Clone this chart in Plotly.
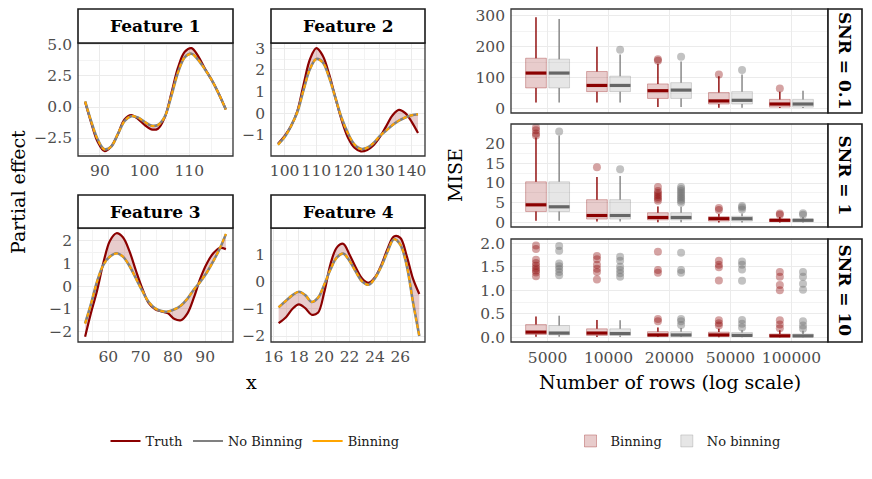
import plotly.graph_objects as go

# the page body has an 8px margin, so the figure is drawn 8px in from the corner
OFF = 8
W, H = 872 - 2 * OFF, 479 - 2 * OFF
FONT = "DejaVu Serif"
DARKRED = "#8B0000"
GRAY = "#808080"
ORANGE = "#FFA500"
TICK_GRAY = "#4D4D4D"

# ---------------- partial effect curves ----------------
f1_x = [86.7, 88, 89.5, 91, 92.5, 94, 95.5, 97, 98.5, 100, 101.5, 103, 104.5,
        106, 107.5, 109, 110.5, 112, 113.5, 115, 116.5, 118.2]
f1_truth = [0.4, -1.2, -2.8, -3.55, -3.2, -2.2, -1.0, -0.65, -0.95, -1.45, -1.8,
            -1.75, -0.85, 1.1, 3.2, 4.45, 4.75, 4.1, 3.1, 2.2, 1.15, -0.2]
f1_nobin = [0.45, -1.1, -2.6, -3.4, -3.2, -2.2, -1.15, -0.75, -0.85, -1.2, -1.5,
            -1.45, -0.8, 0.9, 2.8, 4.0, 4.3, 3.8, 3.05, 2.2, 1.15, -0.2]
f1_bin = [0.45, -1.1, -2.62, -3.42, -3.2, -2.18, -1.15, -0.74, -0.85, -1.2, -1.52,
          -1.46, -0.8, 0.92, 2.8, 4.0, 4.28, 3.8, 3.05, 2.2, 1.14, -0.2]

f2_x = [97.9, 100, 102, 104, 106, 108, 110, 112, 114, 116, 118, 120, 122, 124,
        126, 128, 130, 132, 134, 136, 138, 140, 142]
f2_truth = [-1.41, -1.05, -0.6, 0.1, 1.35, 2.5, 3.0, 2.65, 1.8, 0.7, -0.35, -1.15,
            -1.6, -1.77, -1.7, -1.48, -1.1, -0.6, -0.1, 0.15, 0.0, -0.4, -0.92]
f2_nobin = [-1.45, -1.1, -0.6, 0.05, 1.1, 2.05, 2.5, 2.35, 1.65, 0.7, -0.25, -0.95,
            -1.45, -1.65, -1.6, -1.38, -1.05, -0.8, -0.55, -0.35, -0.2, -0.1, -0.05]
f2_bin = [-1.46, -1.1, -0.6, 0.05, 1.1, 2.04, 2.5, 2.34, 1.65, 0.7, -0.25, -0.96,
          -1.45, -1.66, -1.6, -1.38, -1.05, -0.8, -0.55, -0.34, -0.2, -0.1, -0.05]

f3_x = [52.8, 54.5, 56.5, 58.5, 60.5, 62.5, 64.5, 66.5, 68.5, 70.5, 72.5, 74.5,
        76.5, 78.5, 80.5, 82.5, 84.5, 86.5, 88.5, 90.5, 92.5, 94.5, 96.4]
f3_truth = [-2.23, -1.25, -0.2, 1.05, 2.0, 2.33, 2.15, 1.55, 0.7, -0.1, -0.75, -1.02,
            -1.12, -1.2, -1.45, -1.5, -1.2, -0.5, 0.35, 1.0, 1.45, 1.68, 1.63]
f3_nobin = [-1.64, -0.85, 0.2, 0.95, 1.3, 1.45, 1.3, 0.9, 0.35, -0.2, -0.7, -0.98,
            -1.1, -1.12, -1.02, -0.85, -0.55, -0.15, 0.2, 0.6, 1.1, 1.65, 2.29]
f3_bin = [-1.65, -0.85, 0.2, 0.95, 1.3, 1.44, 1.3, 0.9, 0.35, -0.2, -0.7, -0.98,
          -1.1, -1.12, -1.02, -0.85, -0.55, -0.15, 0.2, 0.6, 1.1, 1.66, 2.3]

f4_x = [16.4, 17, 17.5, 18, 18.5, 19, 19.5, 20, 20.5, 21, 21.5, 22, 22.5, 23,
        23.5, 24, 24.5, 25, 25.5, 26, 26.5, 27, 27.5]
f4_truth = [-1.53, -1.3, -1.0, -0.84, -0.98, -1.22, -1.15, -0.4, 0.65, 1.25, 1.38,
            0.98, 0.5, 0.1, -0.05, 0.15, 0.6, 1.2, 1.65, 1.6, 0.95, 0.1, -0.46]
f4_nobin = [-0.95, -0.7, -0.5, -0.38, -0.5, -0.75, -0.6, -0.12, 0.45, 0.88, 1.02,
            0.75, 0.35, 0.0, -0.12, 0.12, 0.55, 1.1, 1.55, 1.35, 0.6, -0.75, -2.0]
f4_bin = [-0.95, -0.7, -0.5, -0.38, -0.5, -0.75, -0.6, -0.12, 0.45, 0.88, 1.02,
          0.75, 0.35, 0.0, -0.12, 0.12, 0.55, 1.1, 1.55, 1.35, 0.6, -0.76, -2.0]

features = ["Feature 1", "Feature 2", "Feature 3", "Feature 4"]
curves = [
    (f1_x, f1_truth, f1_nobin, f1_bin),
    (f2_x, f2_truth, f2_nobin, f2_bin),
    (f3_x, f3_truth, f3_nobin, f3_bin),
    (f4_x, f4_truth, f4_nobin, f4_bin),
]

# ---------------- MISE boxes (one list per SNR) ----------------
rows = ["5000", "10000", "20000", "50000", "100000"]
snr_labels = ["SNR = 0.1", "SNR = 1", "SNR = 10"]

bin_upper = [[295, 200, 145, 105, 55], [21.5, 11.5, 4.1, 2.2, 1.4], [0.44, 0.37, 0.21, 0.18, 0.15]]
bin_q3 = [[163, 120, 80, 52, 30], [10.3, 5.8, 2.5, 1.5, 0.9], [0.27, 0.18, 0.12, 0.11, 0.07]]
bin_median = [[115, 75, 58, 25, 15], [4.5, 1.8, 1.3, 1.0, 0.6], [0.11, 0.09, 0.05, 0.05, 0.03]]
bin_q1 = [[67, 55, 33, 15, 5], [2.8, 0.9, 0.7, 0.4, 0.25], [0.06, 0.04, 0.02, 0.02, 0.01]]
bin_lower = [[20, 20, 5, 3, 2], [0.5, 0.3, 0.1, 0.05, 0.02], [0.01, 0.005, 0.005, 0.003, 0.002]]
bin_outliers = [
    [[], [], [155, 160], [110], [65]],
    [[22.0, 22.5, 23.3, 24.0], [14.0], [5.5, 6.0, 6.5, 7.0, 7.5, 8.0, 9.0], [3.2, 3.7], [2.0, 2.3]],
    [[1.95, 1.88, 1.65, 1.58, 1.52, 1.47, 1.42, 1.38, 1.3],
     [1.73, 1.66, 1.54, 1.46, 1.39, 1.23],
     [1.82, 1.43, 1.37, 0.39, 0.34],
     [1.63, 1.54, 1.49, 1.21, 0.36, 0.3, 0.25],
     [1.39, 1.29, 1.11, 1.0, 0.36, 0.27, 0.19]],
]

nobin_upper = [[290, 175, 152, 110, 58], [22.0, 11.8, 4.0, 2.3, 1.4], [0.46, 0.36, 0.2, 0.15, 0.14]]
nobin_q3 = [[160, 105, 84, 55, 30], [10.3, 5.8, 2.5, 1.6, 0.9], [0.25, 0.18, 0.12, 0.1, 0.07]]
nobin_median = [[115, 75, 60, 27, 15], [4.0, 1.8, 1.3, 1.0, 0.6], [0.09, 0.08, 0.05, 0.04, 0.03]]
nobin_q1 = [[67, 55, 33, 15, 5], [2.8, 0.9, 0.7, 0.4, 0.25], [0.05, 0.04, 0.02, 0.02, 0.01]]
nobin_lower = [[20, 20, 5, 3, 2], [0.5, 0.3, 0.1, 0.05, 0.02], [0.01, 0.005, 0.005, 0.003, 0.002]]
nobin_outliers = [
    [[], [190], [168], [125], []],
    [[23.0], [13.5], [5.0, 5.5, 6.0, 6.5, 7.0, 7.5, 8.0, 8.5, 9.0], [3.3, 3.8, 4.2], [2.0, 2.4]],
    [[1.94, 1.84, 1.57, 1.51, 1.45, 1.39, 1.32],
     [1.71, 1.63, 1.5, 1.43, 1.36, 1.29],
     [1.8, 1.43, 1.37, 0.39, 0.34, 0.26],
     [1.61, 1.54, 1.44, 1.2, 0.37, 0.29, 0.21],
     [1.39, 1.29, 1.14, 1.01, 0.34, 0.25, 0.18]],
]


# ---------------- geometry (window pixels -> paper fractions) ----------------
def px(a):
    return (a - OFF) / W


def py(b):
    return 1 - (b - OFF) / H


def xdom(a, b):
    return [px(a), px(b)]


def ydom(top, bottom):
    return [py(bottom), py(top)]


left_panels = [(78, 233, 43, 156), (271, 425, 43, 156), (78, 233, 228, 342), (271, 425, 228, 342)]
left_strip_top = [9, 9, 195, 195]
left_xrange = [[85.1, 119.8], [95.7, 144.2], [50.6, 98.6], [15.8, 27.95]]
left_yrange = [[-3.95, 5.16], [-1.98, 3.24], [-2.46, 2.56], [-2.22, 1.96]]
left_xtick = [(10, 5), (10, 5), (10, 5), (2, 1)]
left_ytick = [(2.5, 1.25), (1, 0.5), (1, 0.5), (1, 0.5)]
left_yfmt = [".1f", None, None, None]

right_panels = [(511, 828, 9, 113), (511, 828, 124, 227), (511, 828, 239, 342)]
right_yrange = [[-14, 322], [-1.1, 24.9], [-0.1, 2.09]]
right_ytick = [(100, 50), (5, 2.5), (0.5, 0.25)]
right_yfmt = [None, None, ".1f"]

tick_font = dict(family=FONT, size=15.5, color=TICK_GRAY)
grid = dict(showgrid=True, gridcolor="#EBEBEB", gridwidth=1.1, zeroline=False,
            showline=False, ticks="", tickfont=tick_font, automargin=False,
            ticklabeloverflow="allow")
minor_grid = dict(showgrid=True, gridcolor="#F3F3F3", gridwidth=0.6)

fig = go.Figure()
layout = {}
shapes = []
annotations = []


def note(text, x, y, size, angle=0, color="black"):
    return dict(text=text, x=px(x), y=py(y), xref="paper", yref="paper",
                xanchor="center", yanchor="middle", showarrow=False, textangle=angle,
                font=dict(family=FONT, size=size, color=color))


def frame(x0, x1, top, bottom, fill=None, width=1.3, color="#333333"):
    return dict(type="rect", xref="paper", yref="paper", x0=px(x0), x1=px(x1),
                y0=py(bottom), y1=py(top), fillcolor=fill, layer="above",
                line=dict(color=color, width=width))


for i, (name, (x, truth, nobin, binning)) in enumerate(zip(features, curves)):
    n = i + 1
    xa, ya = f"x{n}", f"y{n}"
    # ribbon between truth and estimate
    fig.add_trace(go.Scatter(x=x, y=nobin, mode="lines", line=dict(width=0, shape="spline"),
                             xaxis=xa, yaxis=ya, showlegend=False, hoverinfo="skip"))
    fig.add_trace(go.Scatter(x=x, y=truth, mode="lines", line=dict(width=0, shape="spline"),
                             fill="tonexty", fillcolor="rgba(139,0,0,0.2)",
                             xaxis=xa, yaxis=ya, showlegend=False, hoverinfo="skip"))
    fig.add_trace(go.Scatter(x=x, y=truth, mode="lines", line=dict(color=DARKRED, width=2.2, shape="spline"),
                             xaxis=xa, yaxis=ya, showlegend=False))
    fig.add_trace(go.Scatter(x=x, y=nobin, mode="lines", line=dict(color=GRAY, width=2.6, shape="spline"),
                             xaxis=xa, yaxis=ya, showlegend=False))
    fig.add_trace(go.Scatter(x=x, y=binning, mode="lines",
                             line=dict(color=ORANGE, width=2, dash="4px,3px", shape="spline"),
                             xaxis=xa, yaxis=ya, showlegend=False))

    x0, x1, top, bottom = left_panels[i]
    layout[f"xaxis{n}"] = dict(grid, domain=xdom(x0, x1), anchor=ya, range=left_xrange[i],
                               dtick=left_xtick[i][0], tick0=0,
                               minor=dict(minor_grid, dtick=left_xtick[i][1]),
                               ticklabelstandoff=3)
    layout[f"yaxis{n}"] = dict(grid, domain=ydom(top, bottom), anchor=xa, range=left_yrange[i],
                               dtick=left_ytick[i][0], tick0=0, tickformat=left_yfmt[i],
                               minor=dict(minor_grid, dtick=left_ytick[i][1]),
                               ticklabelstandoff=5)
    shapes.append(frame(x0, x1, top, bottom))
    st = left_strip_top[i]
    shapes.append(frame(x0, x1, st, top, fill="white", width=1.6, color="#1A1A1A"))
    annotations.append(note(f"<b>{name}</b>", (x0 + x1) / 2, (st + top) / 2, 17))

# legend-only entries for the curves
for label, color in [("Truth", DARKRED), ("No Binning", GRAY), ("Binning", ORANGE)]:
    fig.add_trace(go.Scatter(x=[None], y=[None], mode="lines", name=label,
                             line=dict(color=color, width=2), xaxis="x1", yaxis="y1",
                             legend="legend"))

offset = 0.19
box_w = 0.34
positions = list(range(1, len(rows) + 1))
groups = [
    ("Binning", -offset, "rgba(139,0,0,0.2)", "rgba(139,0,0,0.3)", DARKRED, DARKRED,
     "rgba(139,0,0,0.36)", bin_lower, bin_q1, bin_median, bin_q3, bin_upper, bin_outliers),
    ("No binning", offset, "rgba(128,128,128,0.2)", "rgba(128,128,128,0.3)", GRAY, "#666666",
     "rgba(110,110,110,0.42)", nobin_lower, nobin_q1, nobin_median, nobin_q3, nobin_upper, nobin_outliers),
]

for j, label in enumerate(snr_labels):
    n = j + 5
    xa, ya = f"x{n}", f"y{n}"
    for (gname, off, fill, outline, wcol, mcol, ocol, lo, q1, med, q3, up, outl) in groups:
        pos = [p + off for p in positions]
        fig.add_trace(go.Box(x=pos, q1=q1[j], median=med[j], q3=q3[j], lowerfence=lo[j],
                             upperfence=up[j], width=box_w, fillcolor=fill,
                             line=dict(color=outline, width=1), whiskerwidth=0,
                             xaxis=xa, yaxis=ya, name=gname, legend="legend2",
                             showlegend=(j == 0)))
        wx, wy, mx, my = [], [], [], []
        for k, p in enumerate(pos):
            wx += [p, p, None, p, p, None]
            wy += [lo[j][k], q1[j][k], None, q3[j][k], up[j][k], None]
            mx += [p - box_w / 2, p + box_w / 2, None]
            my += [med[j][k], med[j][k], None]
        fig.add_trace(go.Scatter(x=wx, y=wy, mode="lines", line=dict(color=wcol, width=1.3),
                                 xaxis=xa, yaxis=ya, showlegend=False, hoverinfo="skip"))
        fig.add_trace(go.Scatter(x=mx, y=my, mode="lines", line=dict(color=mcol, width=3.2),
                                 xaxis=xa, yaxis=ya, showlegend=False, hoverinfo="skip"))
        ox, oy = [], []
        for k, p in enumerate(pos):
            ox += [p] * len(outl[j][k])
            oy += outl[j][k]
        fig.add_trace(go.Scatter(x=ox, y=oy, mode="markers",
                                 marker=dict(color=ocol, size=8, line=dict(width=0)),
                                 xaxis=xa, yaxis=ya, showlegend=False))

    x0, x1, top, bottom = right_panels[j]
    layout[f"xaxis{n}"] = dict(grid, domain=xdom(x0, x1), anchor=ya, range=[0.4, 5.6],
                               tickvals=positions, ticktext=rows, showticklabels=(j == 2),
                               ticklabelstandoff=4)
    layout[f"yaxis{n}"] = dict(grid, domain=ydom(top, bottom), anchor=xa, range=right_yrange[j],
                               dtick=right_ytick[j][0], tick0=0, tickformat=right_yfmt[j],
                               minor=dict(minor_grid, dtick=right_ytick[j][1]),
                               ticklabelstandoff=5)
    shapes.append(frame(x0, x1, top, bottom))
    shapes.append(frame(x1, 862, top, bottom, fill="white", width=1.6, color="#1A1A1A"))
    annotations.append(note(f"<b>{label}</b>", 845, (top + bottom) / 2, 17, angle=90))

annotations += [
    note("Partial effect", 18, 192, 19, angle=-90),
    note("x", 252, 382, 19),
    note("MISE", 455, 175, 19, angle=-90),
    note("Number of rows (log scale)", 670, 382, 19),
]

legend_font = dict(family=FONT, size=13, color="#1A1A1A")
fig.update_layout(
    **layout,
    width=W, height=H,
    margin=dict(l=0, r=0, t=0, b=0, autoexpand=False),
    paper_bgcolor="white", plot_bgcolor="white",
    font=dict(family=FONT),
    shapes=shapes, annotations=annotations,
    legend=dict(orientation="h", x=px(255), y=py(441), xanchor="center", yanchor="middle",
                font=legend_font, bgcolor="rgba(0,0,0,0)", traceorder="normal"),
    legend2=dict(orientation="h", x=px(678), y=py(441), xanchor="center", yanchor="middle",
                 font=legend_font, bgcolor="rgba(0,0,0,0)", traceorder="normal"),
)

fig.write_html("out.html")
